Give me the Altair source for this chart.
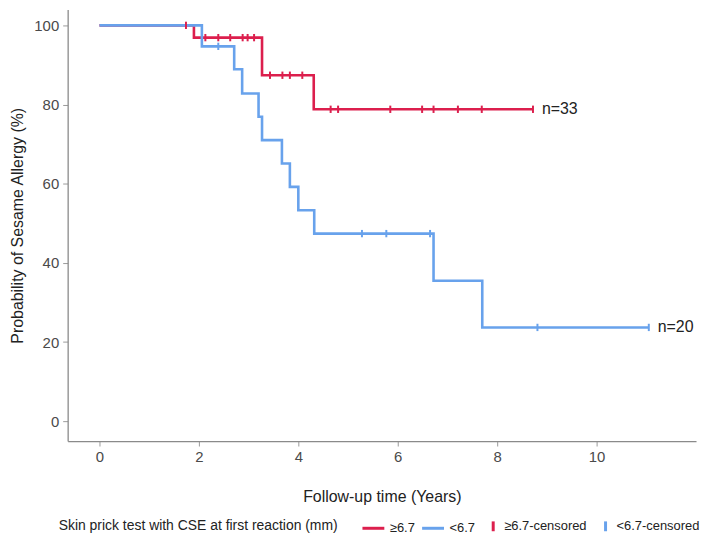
import altair as alt
import pandas as pd

# ---- data ----
groups_line = ["≥6.7", "<6.7"]
# Kaplan-Meier step points (time in years, probability in %)
hi_time = [0.0, 1.90, 3.27, 4.31, 8.72]
hi_surv = [100.0, 96.9, 87.4, 78.8, 78.8]
lo_time = [0.0, 2.06, 2.71, 2.87, 3.20, 3.27, 3.67, 3.83, 4.00, 4.32, 6.72, 7.70, 11.05]
lo_surv = [100.0, 94.7, 88.9, 82.8, 76.9, 71.0, 65.1, 59.2, 53.3, 47.4, 35.5, 23.7, 23.7]

# censored observations
hi_cens_time = [1.74, 2.13, 2.39, 2.63, 2.88, 2.98, 3.11, 3.43, 3.68, 3.83, 4.08,
                4.65, 4.80, 5.85, 6.49, 6.72, 7.21, 7.69, 8.72]
hi_cens_surv = [100.0, 96.9, 96.9, 96.9, 96.9, 96.9, 96.9, 87.4, 87.4, 87.4, 87.4,
                78.8, 78.8, 78.8, 78.8, 78.8, 78.8, 78.8, 78.8]
lo_cens_time = [2.39, 5.28, 5.77, 6.65, 8.81, 11.05]
lo_cens_surv = [94.7, 47.4, 47.4, 47.4, 23.7, 23.7]

n_labels = ["n=33", "n=20"]
n_time = [8.72, 11.05]
n_surv = [78.8, 23.7]

legend_domain = ["≥6.7", "<6.7", "≥6.7-censored", "<6.7-censored"]
legend_colors = ["#DC1F4D", "#68A2EC", "#DC1F4D", "#68A2EC"]
legend_shapes = ["M-1,0H1", "M-1,0H1", "M0.5,-0.45V0.45", "M0.5,-0.45V0.45"]
TICK_PATH = "M0,-0.36V0.36"

x_ticks = [0, 2, 4, 6, 8, 10]
y_ticks = [0, 20, 40, 60, 80, 100]

# ---- tables ----
lines = pd.concat([
    pd.DataFrame({"t": hi_time, "s": hi_surv, "g": groups_line[0]}),
    pd.DataFrame({"t": lo_time, "s": lo_surv, "g": groups_line[1]}),
])
cens = pd.concat([
    pd.DataFrame({"t": hi_cens_time, "s": hi_cens_surv, "g": legend_domain[2]}),
    pd.DataFrame({"t": lo_cens_time, "s": lo_cens_surv, "g": legend_domain[3]}),
])
labels = pd.DataFrame({"t": n_time, "s": n_surv, "lab": n_labels})

FONT = "Liberation Sans"
LEG_TITLE = "Skin prick test with CSE at first reaction (mm)"

x_enc = alt.X("t:Q", title="Follow-up time (Years)",
              scale=alt.Scale(domain=[-0.64, 12.0], nice=False, zero=False),
              axis=alt.Axis(values=x_ticks, titlePadding=24))
y_enc = alt.Y("s:Q", title="Probability of Sesame Allergy (%)",
              scale=alt.Scale(domain=[-5, 104], nice=False, zero=False),
              axis=alt.Axis(values=y_ticks, titlePadding=8))

color_scale = alt.Scale(domain=legend_domain, range=legend_colors)
shape_scale = alt.Scale(domain=legend_domain, range=legend_shapes)

line_layer = alt.Chart(lines).mark_line(interpolate="step-after", strokeWidth=2.6).encode(
    x=x_enc, y=y_enc,
    color=alt.Color("g:N", scale=color_scale, legend=None),
    detail="g:N",
)

cens_layer = alt.Chart(cens).mark_point(filled=False, size=420, strokeWidth=2,
                                        opacity=1, shape=TICK_PATH).encode(
    x="t:Q", y="s:Q",
    color=alt.Color("g:N", scale=color_scale, legend=None),
)

# layer that only carries the legend (its own marks have zero size)
legend_layer = alt.Chart(cens).mark_point(filled=False, size=0, strokeWidth=3, opacity=1).encode(
    x="t:Q", y="s:Q",
    color=alt.Color("g:N", scale=color_scale, title=LEG_TITLE),
    shape=alt.Shape("g:N", scale=shape_scale, title=LEG_TITLE),
)

text_layer = alt.Chart(labels).mark_text(align="left", baseline="middle", dx=9,
                                         fontSize=16, font=FONT, color="#222").encode(
    x="t:Q", y="s:Q", text="lab:N"
)

chart = alt.layer(line_layer, cens_layer, legend_layer, text_layer).resolve_legend(
    color="independent", shape="independent"
).properties(
    width=632, height=434,
    autosize=alt.AutoSizeParams(type="none"),
    padding={"left": 60, "top": 0, "right": 5, "bottom": 98},
).configure_view(stroke=None).configure_axis(
    grid=False,
    domainColor="#8a8a8a", domainWidth=1.3,
    tickColor="#9a9a9a", tickSize=5, tickWidth=1,
    labelColor="#4a4a4a", labelFont=FONT, labelFontSize=15, labelPadding=4,
    titleColor="#222", titleFont=FONT, titleFontSize=16, titleFontWeight="normal",
).configure_legend(
    orient="none", legendX=-9, legendY=507, direction="horizontal",
    titleOrient="left", titleAnchor="middle", titleBaseline="middle", titleLimit=400,
    titleFont=FONT, titleFontSize=14, titleFontWeight="normal",
    titleColor="#222", labelFont=FONT, labelFontSize=13, labelColor="#222",
    symbolSize=484, symbolStrokeWidth=3, labelOffset=4, columnPadding=0,
    titlePadding=23,
)

chart.save("out.html", embed_options={"renderer": "svg", "actions": False})
